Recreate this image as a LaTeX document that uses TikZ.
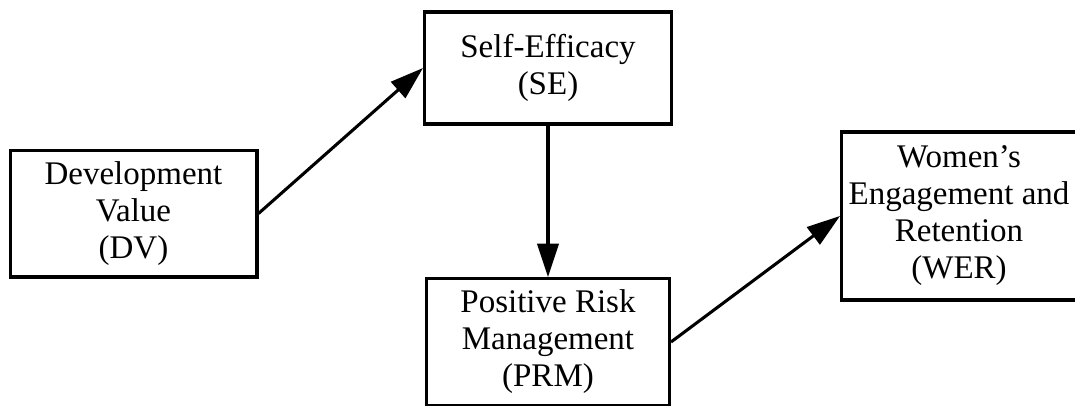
\documentclass[tikz,border=0pt]{standalone}
\usepackage{fontspec}
\setmainfont{Liberation Serif}
\usepackage{tikz}
\usetikzlibrary{arrows.meta,positioning}

\begin{document}
\begin{tikzpicture}[
    x=0.75pt, y=0.75pt,
    >={Triangle[length=25pt,width=16pt]},
    construct/.style={draw=black, line width=2.5pt, fill=white, align=center, inner sep=0pt,
      font=\fontsize{24.75pt}{27.75pt}\selectfont},
    link/.style={->, line width=2.3pt}
]
\useasboundingbox (0,0) rectangle (1075,405);
\node[construct, minimum width=185pt, minimum height=95pt] (dv) at (133.5,191.5) {Development\\Value\\(DV)};
\node[construct, minimum width=185pt, minimum height=84pt] (se) at (548,337) {Self-Efficacy\\(SE)};
\node[construct, minimum width=182pt, minimum height=95pt] (prm) at (548,63) {Positive Risk\\Management\\(PRM)};
\node[construct, minimum width=176pt, minimum height=126pt] (wer) at (959,189) {Women’s\\Engagement and\\Retention\\(WER)};

\draw[link] (dv.east) -- (se.west);
\draw[link] (se) -- (prm);
\draw[link] (prm.east) -- (wer.west);
\end{tikzpicture}
\end{document}
